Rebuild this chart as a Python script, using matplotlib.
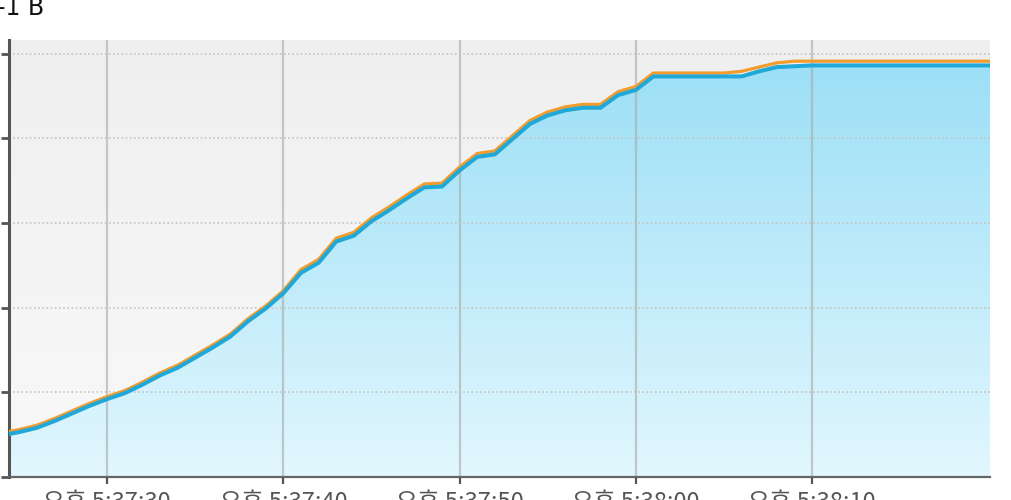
import numpy as np
import matplotlib
matplotlib.use("Agg")
import matplotlib.pyplot as plt
from matplotlib.colors import LinearSegmentedColormap
from matplotlib.patches import PathPatch
from matplotlib.ticker import FuncFormatter, MultipleLocator

# seconds after 17:37:00, one sample per second
seconds = list(range(24, 82))
tick_seconds = [30, 40, 50, 60, 70]

# used (blue, filled) and allocated (orange) values, in grid units
blue = [0.49, 0.53, 0.58, 0.66, 0.75, 0.84, 0.92, 0.99, 1.09, 1.20, 1.29,
        1.41, 1.53, 1.66, 1.84, 1.99, 2.17, 2.41, 2.53, 2.78, 2.85, 3.02,
        3.15, 3.29, 3.42, 3.43, 3.62, 3.78, 3.81, 3.99, 4.17, 4.27, 4.33,
        4.36, 4.36, 4.51, 4.57, 4.73, 4.73, 4.73, 4.73, 4.73, 4.73, 4.79,
        4.84, 4.85, 4.86, 4.86, 4.86, 4.86, 4.86, 4.86, 4.86, 4.86, 4.86,
        4.86, 4.86, 4.86]
orange = [0.52, 0.56, 0.61, 0.69, 0.78, 0.87, 0.95, 1.02, 1.12, 1.23, 1.32,
          1.44, 1.56, 1.69, 1.87, 2.02, 2.20, 2.45, 2.57, 2.82, 2.89, 3.06,
          3.19, 3.33, 3.46, 3.47, 3.66, 3.82, 3.85, 4.03, 4.21, 4.31, 4.37,
          4.40, 4.40, 4.55, 4.61, 4.77, 4.77, 4.77, 4.77, 4.77, 4.79, 4.84,
          4.89, 4.91, 4.91, 4.91, 4.91, 4.91, 4.91, 4.91, 4.91, 4.91, 4.91,
          4.91, 4.91, 4.91]

x_min, x_max = 24.43, 80.1
y_max = 5.16

fig = plt.figure(figsize=(10.12, 5.0), dpi=100)
ax = fig.add_axes([9 / 1012, 23 / 500, 981 / 1012, 437 / 500])
ax.set_xlim(x_min, x_max)
ax.set_ylim(0, y_max)

# plot background gradient
bg = LinearSegmentedColormap.from_list("bg", ["#f9f9f9", "#efefef"])
ax.imshow(np.linspace(0, 1, 256).reshape(-1, 1), cmap=bg, origin="lower",
          aspect="auto", extent=[x_min, x_max, 0, y_max], zorder=0)

# gradient fill under the blue series
fill = ax.fill_between(seconds, blue, 0, facecolor="none", edgecolor="none")
clip = PathPatch(fill.get_paths()[0], transform=ax.transData,
                 facecolor="none", edgecolor="none")
ax.add_patch(clip)
fc = LinearSegmentedColormap.from_list("fc", ["#e2f7fe", "#9bdff6"])
im = ax.imshow(np.linspace(0, 1, 256).reshape(-1, 1), cmap=fc, origin="lower",
               aspect="auto", extent=[x_min, x_max, 0, 4.95], zorder=1)
im.set_clip_path(clip)

# grid
ax.set_xticks(tick_seconds)
ax.yaxis.set_major_locator(MultipleLocator(1))
for xv in tick_seconds:
    ax.axvline(xv, color="#a8a8a8", lw=1.6, alpha=0.6, zorder=2)
for yv in range(1, 6):
    ax.axhline(yv, color="#c4c4c4", lw=1.2, ls=(0, (1, 1.5)), zorder=2)

ax.plot(seconds, orange, color="#f19c2c", lw=2.3, zorder=3,
        solid_joinstyle="miter")
ax.plot(seconds, blue, color="#1fa8d8", lw=2.9, zorder=4,
        solid_joinstyle="miter")


def fmt(v, pos):
    total = int(round(v)) + 17 * 3600 + 37 * 60
    h, rem = divmod(total, 3600)
    m, s = divmod(rem, 60)
    return f"오후 {h - 12}:{m:02d}:{s:02d}"


ax.xaxis.set_major_formatter(FuncFormatter(fmt))
ax.set_yticklabels([])
for side in ("top", "right"):
    ax.spines[side].set_visible(False)
ax.spines["left"].set_color("#555555")
ax.spines["left"].set_linewidth(2.2)
ax.spines["bottom"].set_color("#666666")
ax.spines["bottom"].set_linewidth(1.6)
ax.tick_params(axis="x", length=5, width=1.6, color="#555555", pad=5,
               labelsize=17, labelcolor="#555555")
ax.tick_params(axis="y", length=6, width=2, color="#555555")
for lab in ax.get_xticklabels():
    lab.set_fontfamily(["Noto Sans CJK KR", "DejaVu Sans"])

fig.text(-0.003, 0.97, "-1 B", fontsize=17, family="DejaVu Sans",
         color="#111111", ha="left", va="baseline")

fig.savefig("out.png", dpi=100)
